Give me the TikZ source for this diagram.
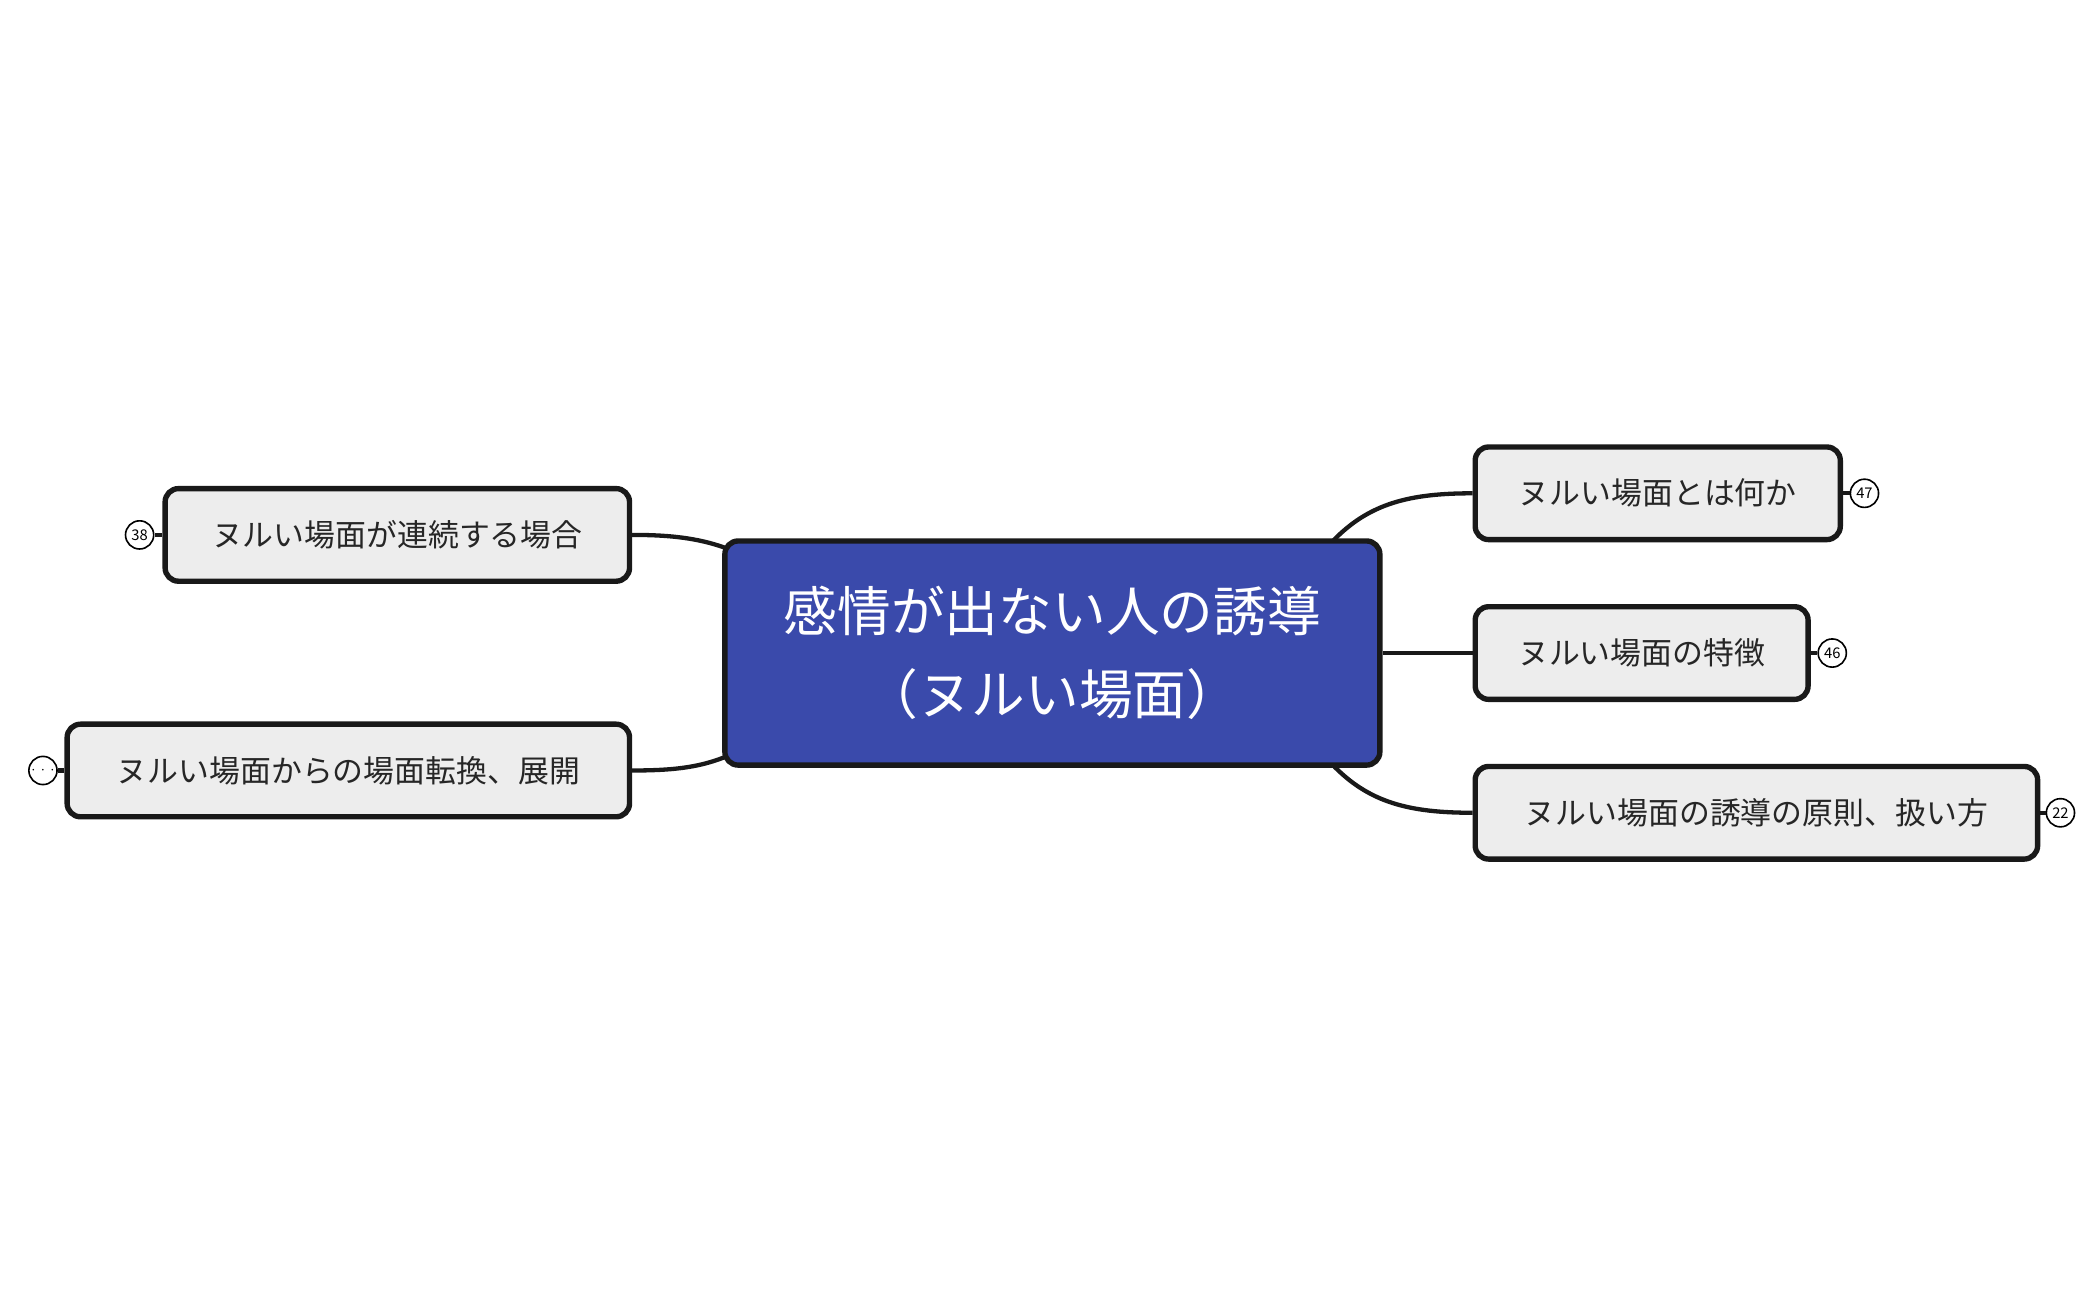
\documentclass[tikz,border=0pt]{standalone}
\usepackage{fontspec}
\setmainfont{Noto Sans CJK JP}
\begin{document}
\begin{tikzpicture}[x=0.5pt,y=-0.5pt,
  child/.style={draw=black!90,line width=2pt,fill=black!7,rounded corners=5pt,font=\fontsize{11.5}{13}\selectfont,text=black!85},
  conn/.style={line width=1.6pt,draw=black!90},
  badge/.style={circle,draw,line width=0.6pt,fill=white,inner sep=0pt,minimum size=10.5pt,font=\fontsize{5.5}{6}\selectfont}]
\useasboundingbox (0,0) rectangle (1560,968.5);
\node[draw=black!90,line width=2pt,fill={rgb,255:red,58;green,74;blue,171},rounded corners=5pt,minimum width=244pt,minimum height=83.5pt,align=center,text=white,font=\fontsize{20}{31}\selectfont] (c) at (784,486.5) {感情が出ない人の誘導\\（ヌルい場面）};
\node[child,minimum width=136pt,minimum height=34.5pt] (r1) at (1235,367.5) {ヌルい場面とは何か};
\node[child,minimum width=124pt,minimum height=34.5pt] (r2) at (1223,486.5) {ヌルい場面の特徴};
\node[child,minimum width=209.5pt,minimum height=34.5pt] (r3) at (1308.5,605.5) {ヌルい場面の誘導の原則、扱い方};
\node[child,minimum width=173pt,minimum height=34.5pt] (l1) at (296,398.5) {ヌルい場面が連続する場合};
\node[child,minimum width=209.5pt,minimum height=34.5pt] (l2) at (259.5,574) {ヌルい場面からの場面転換、展開};
\node[badge] (b1) at (1389,367.5) {47};
\node[badge] (b2) at (1365,486.5) {46};
\node[badge] (b3) at (1535,605.5) {22};
\node[badge] (b4) at (104,398.5) {38};
\node[badge] (b5) at (32,574) {$\cdots$};
\draw[conn] (r1.east) -- (b1.west);
\draw[conn] (r2.east) -- (b2.west);
\draw[conn] (r3.east) -- (b3.west);
\draw[conn] (l1.west) -- (b4.east);
\draw[conn] (l2.west) -- (b5.east);
\coordinate (ctr) at (993,403);
\coordinate (cbr) at (993,570);
\coordinate (ctl) at (540,408);
\coordinate (cbl) at (540,564);
\draw[conn] (ctr) .. controls (1020,375) and (1050,367.5) .. (r1.west);
\draw[conn] (c.east) -- (r2.west);
\draw[conn] (cbr) .. controls (1020,598) and (1050,605.5) .. (r3.west);
\draw[conn] (ctl) .. controls (520,401) and (500,398.5) .. (l1.east);
\draw[conn] (cbl) .. controls (520,572) and (500,574) .. (l2.east);
\end{tikzpicture}
\end{document}
